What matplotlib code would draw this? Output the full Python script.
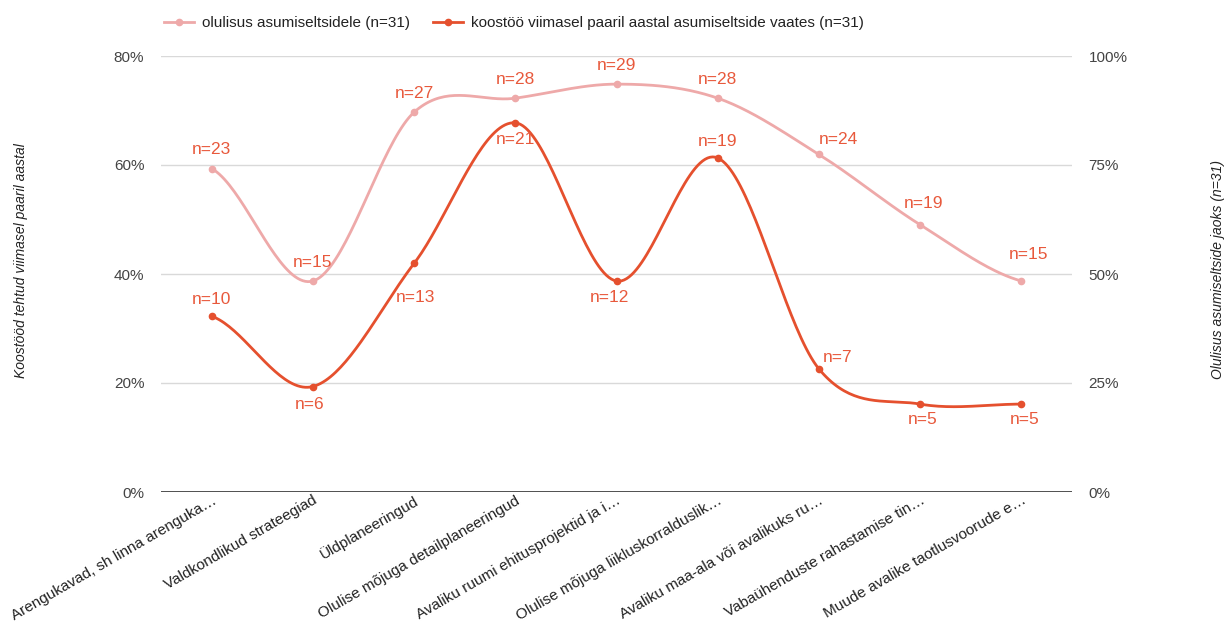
import numpy as np
import matplotlib
matplotlib.use("Agg")
import matplotlib.pyplot as plt
from matplotlib.lines import Line2D
from matplotlib.ticker import FuncFormatter

plt.rcParams['font.family'] = ['Liberation Sans', 'DejaVu Sans']

categories = [
    "Arengukavad, sh linna arenguka…",
    "Valdkondlikud strateegiad",
    "Üldplaneeringud",
    "Olulise mõjuga detailplaneeringud",
    "Avaliku ruumi ehitusprojektid ja i…",
    "Olulise mõjuga liikluskorralduslik…",
    "Avaliku maa-ala või avalikuks ru…",
    "Vabaühenduste rahastamise tin…",
    "Muude avalike taotlusvoorude e…",
]
total_n = 31
importance_n = [23, 15, 27, 28, 29, 28, 24, 19, 15]
cooperation_n = [10, 6, 13, 21, 12, 19, 7, 5, 5]

importance_label = "olulisus asumiseltsidele (n=31)"
cooperation_label = "koostöö viimasel paaril aastal asumiseltside vaates (n=31)"
left_title = "Koostööd tehtud viimasel paaril aastal"
right_title = "Olulisus asumiseltside jaoks (n=31)"

PINK = "#eea9a9"
RED = "#e5502e"
LABEL = "#e8593c"
GRID = "#d9d9d9"
TEXT = "#222222"
TICK = "#444444"


def smooth(y, steps=40):
    """Cubic Hermite curve through the points with Catmull-Rom tangents."""
    y = np.asarray(y, dtype=float)
    n = len(y)
    m = np.empty(n)
    m[1:-1] = (y[2:] - y[:-2]) / 2
    m[0] = (y[1] - y[0]) / 2
    m[-1] = (y[-1] - y[-2]) / 2
    xs, ys = [], []
    for i in range(n - 1):
        t = np.linspace(0, 1, steps, endpoint=(i == n - 2))
        h00 = 2 * t**3 - 3 * t**2 + 1
        h10 = t**3 - 2 * t**2 + t
        h01 = -2 * t**3 + 3 * t**2
        h11 = t**3 - t**2
        xs.append(i + t)
        ys.append(h00 * y[i] + h10 * m[i] + h01 * y[i + 1] + h11 * m[i + 1])
    return np.concatenate(xs), np.concatenate(ys)


fig = plt.figure(figsize=(12.26, 6.23), dpi=100)
ax = fig.add_axes([161 / 1226, 1 - 492 / 623, 911 / 1226, 436 / 623])
ax2 = ax.twinx()

x = np.arange(len(categories))
imp = np.array(importance_n) / total_n
coop = np.array(cooperation_n) / total_n

ax.set_xlim(-0.5, len(categories) - 0.5)
ax.set_ylim(0, 0.8)
ax2.set_ylim(0, 1.0)

ax.set_yticks([0, 0.2, 0.4, 0.6, 0.8])
ax2.set_yticks([0, 0.25, 0.5, 0.75, 1.0])
pct = FuncFormatter(lambda v, p: f"{v * 100:.0f}%")
ax.yaxis.set_major_formatter(pct)
ax2.yaxis.set_major_formatter(pct)

for a in (ax, ax2):
    for s in a.spines.values():
        s.set_visible(False)
    a.tick_params(axis='y', length=0, labelsize=11, labelcolor=TICK, pad=12)
ax.grid(axis='y', color=GRID, linewidth=1)
ax.set_axisbelow(True)
ax.axhline(0, color="#333333", linewidth=1.2, zorder=2)

ax.set_xticks(x)
ax.set_xticklabels(categories, rotation=30, ha='right', rotation_mode='anchor',
                   fontsize=11, color=TEXT)
ax.tick_params(axis='x', length=0, pad=1)

ax.set_ylabel(left_title, fontsize=10, style='italic', color=TEXT)
ax2.set_ylabel(right_title, fontsize=10, style='italic', color=TEXT, rotation=90)
ax.yaxis.set_label_coords(-133 / 911, 0.53)
ax2.yaxis.set_label_coords(1 + 139 / 911, 0.51)

# importance curve (right axis)
sx, sy = smooth(imp)
ax2.plot(sx, sy, color=PINK, linewidth=2, zorder=3)
ax2.plot(x, imp, 'o', color=PINK, markersize=4.5, zorder=4)

# cooperation curve (left axis)
sx, sy = smooth(coop)
ax.plot(sx, sy, color=RED, linewidth=2, zorder=3)
ax.plot(x, coop, 'o', color=RED, markersize=4.5, zorder=4)

# annotation placement: (dx px, dy px, horizontal alignment)
imp_place = [(0, 19, 'center')] * 6 + [(0, 15, 'left'), (3, 21, 'center'), (7, 27, 'center')]
coop_place = [(0, 17, 'center'), (-3, -18, 'center'), (1, -34, 'center'),
              (0, -17, 'center'), (-7, -16, 'center'), (0, 16, 'center'),
              (4, 11, 'left'), (3, -15, 'center'), (3, -15, 'center')]

for i, n in enumerate(importance_n):
    dx, dy, ha = imp_place[i]
    ax2.annotate(f"n={n}", (x[i], imp[i]), xytext=(dx, dy), textcoords='offset pixels',
                 ha=ha, va='center', fontsize=12.5, color=LABEL, zorder=5)
for i, n in enumerate(cooperation_n):
    dx, dy, ha = coop_place[i]
    ax.annotate(f"n={n}", (x[i], coop[i]), xytext=(dx, dy), textcoords='offset pixels',
                ha=ha, va='center', fontsize=12.5, color=LABEL, zorder=5)

handles = [
    Line2D([], [], color=PINK, linewidth=2, marker='o', markersize=4.5),
    Line2D([], [], color=RED, linewidth=2, marker='o', markersize=4.5),
]
fig.legend(handles, [importance_label, cooperation_label], loc='center left',
           bbox_to_anchor=(150 / 1226, 1 - 23 / 623), ncol=2, frameon=False,
           fontsize=11, handlelength=2.0, handletextpad=0.5, columnspacing=1.5,
           labelcolor=TEXT)

fig.savefig("out.png", dpi=100)
